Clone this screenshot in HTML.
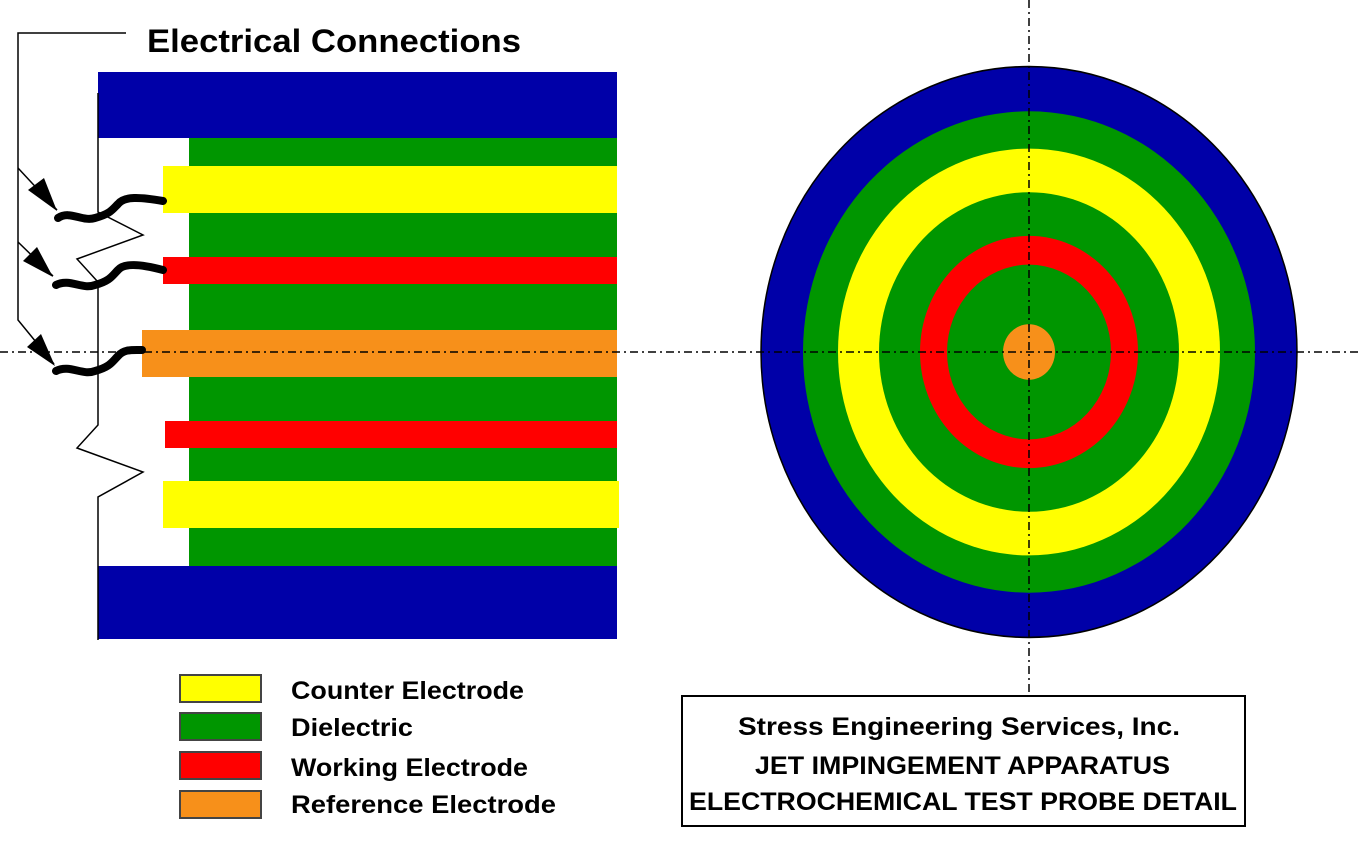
<!DOCTYPE html>
<html><head><meta charset="utf-8"><style>
html,body{margin:0;padding:0;background:#fff;width:1360px;height:847px;overflow:hidden}
svg{display:block}
text{font-family:"Liberation Sans",Arial,sans-serif;font-weight:bold;fill:#000}
</style></head><body>
<svg width="1360" height="847" viewBox="0 0 1360 847" xmlns="http://www.w3.org/2000/svg">
<rect x="98" y="72" width="519" height="66" fill="#0000a8"/>
<rect x="189" y="138" width="428" height="429" fill="#009600"/>
<rect x="163" y="166" width="454" height="47" fill="#ffff00"/>
<rect x="163" y="257" width="454" height="27" fill="#ff0000"/>
<rect x="142" y="330" width="475" height="47" fill="#f7901a"/>
<rect x="165" y="421" width="452" height="27" fill="#ff0000"/>
<rect x="163" y="481" width="456" height="47" fill="#ffff00"/>
<rect x="98" y="566" width="519" height="73" fill="#0000a8"/>
<g transform="translate(1029,352) scale(1,1.065)">
<circle r="268" fill="#0000a8" stroke="#000" stroke-width="1.5"/>
<circle r="226" fill="#009600"/>
<circle r="191" fill="#ffff00"/>
<circle r="150" fill="#009600"/>
<circle r="109" fill="#ff0000"/>
<circle r="82" fill="#009600"/>
<circle r="26" fill="#f7901a"/>
</g>
<line x1="0" y1="352" x2="1360" y2="352" stroke="#000" stroke-width="1.5" stroke-dasharray="8,4,2,4"/>
<line x1="1029" y1="0" x2="1029" y2="695" stroke="#000" stroke-width="1.5" stroke-dasharray="8,4,2,4"/>
<polyline points="126,33 18,33 18,320 54,364" fill="none" stroke="#000" stroke-width="1.5"/>
<line x1="18" y1="168" x2="57" y2="210" stroke="#000" stroke-width="1.5"/>
<line x1="18" y1="242" x2="53" y2="276" stroke="#000" stroke-width="1.5"/>
<polygon points="57,211 28,190 44,178" fill="#000"/>
<polygon points="53,277 23,261 37,247" fill="#000"/>
<polygon points="55,366 27,347 41,334" fill="#000"/>
<polyline points="98,93 98,212 143,235 77,259 98,282 98,425 77,448 143,472 98,497 98,640" fill="none" stroke="#000" stroke-width="1.5"/>
<g fill="none" stroke="#000" stroke-width="8" stroke-linecap="round">
<path d="M58,218 C70,210 82,222 95,218 C110,214 112,210 118,204 C124,196 140,197 163,201"/>
<path d="M56,285 C70,278 82,290 95,285 C110,281 112,276 118,270 C124,263 140,264 163,270"/>
<path d="M56,371 C70,364 82,376 95,371 C110,367 112,362 118,356 C124,349 132,350 142,350"/>
</g>
<text x="147" y="52" font-size="32" textLength="374" lengthAdjust="spacingAndGlyphs">Electrical Connections</text>
<g stroke="#444" stroke-width="2">
<rect x="180" y="675" width="81" height="27" fill="#ffff00"/>
<rect x="180" y="713" width="81" height="27" fill="#009600"/>
<rect x="180" y="752" width="81" height="27" fill="#ff0000"/>
<rect x="180" y="791" width="81" height="27" fill="#f7901a"/>
</g>
<text x="291" y="699" font-size="25" textLength="233" lengthAdjust="spacingAndGlyphs">Counter Electrode</text>
<text x="291" y="736" font-size="25" textLength="122" lengthAdjust="spacingAndGlyphs">Dielectric</text>
<text x="291" y="776" font-size="25" textLength="237" lengthAdjust="spacingAndGlyphs">Working Electrode</text>
<text x="291" y="813" font-size="25" textLength="265" lengthAdjust="spacingAndGlyphs">Reference Electrode</text>
<rect x="682" y="696" width="563" height="130" fill="#fff" stroke="#000" stroke-width="2"/>
<text x="738" y="735" font-size="25" textLength="442" lengthAdjust="spacingAndGlyphs">Stress Engineering Services, Inc.</text>
<text x="755" y="774" font-size="25" textLength="415" lengthAdjust="spacingAndGlyphs">JET IMPINGEMENT APPARATUS</text>
<text x="689" y="810" font-size="25" textLength="548" lengthAdjust="spacingAndGlyphs">ELECTROCHEMICAL TEST PROBE DETAIL</text>
</svg>
</body></html>
